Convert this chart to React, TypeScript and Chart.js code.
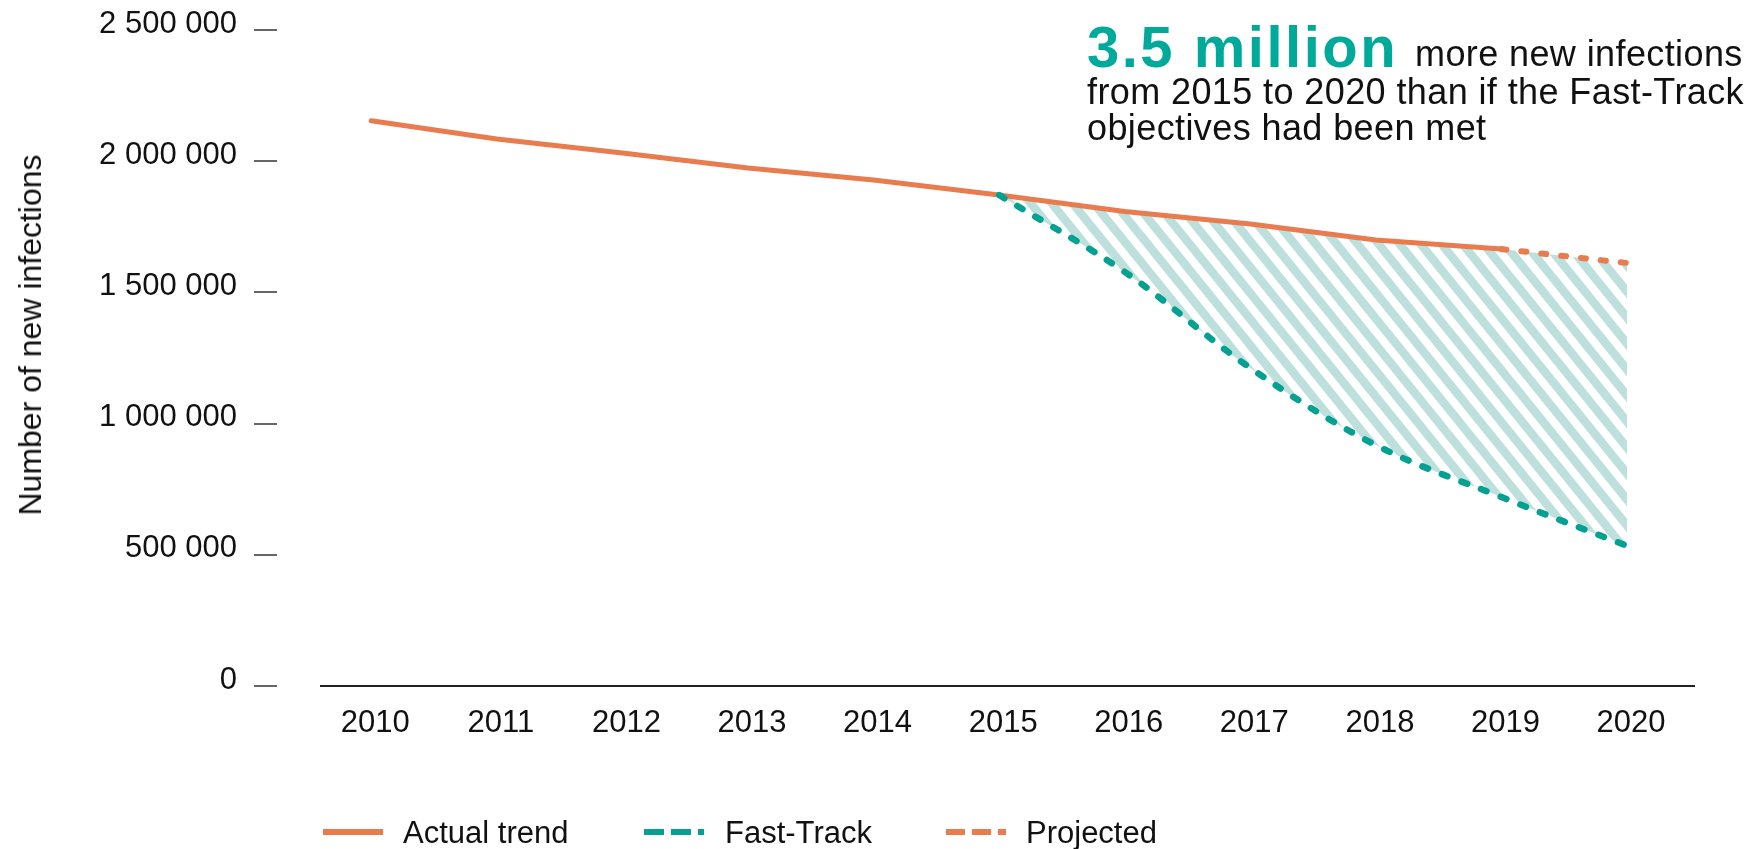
import React, { useEffect, useRef } from 'react';
import { Chart, registerables } from 'chart.js';

Chart.register(...registerables);

// ---------- data ----------
const years = [2010, 2011, 2012, 2013, 2014, 2015, 2016, 2017, 2018, 2019, 2020];
const actualYears = [2010, 2011, 2012, 2013, 2014, 2015, 2016, 2017, 2018, 2019];
const actualTrend = [2154000, 2085000, 2031000, 1974000, 1928000, 1871000, 1808000, 1761000, 1700000, 1665000];
const projectedYears = [2019, 2020];
const projected = [1665000, 1612000];
const fastTrackYears = [2015, 2016, 2017, 2018, 2019, 2020];
const fastTrack = [1871000, 1578000, 1212000, 918000, 720000, 534000];
const yTicks = [0, 500000, 1000000, 1500000, 2000000, 2500000];
const legendLabels = ['Actual trend', 'Fast-Track', 'Projected'];
const yTitle = 'Number of new infections';
const headline = '3.5 million';
const noteLines = ['more new infections', 'from 2015 to 2020 than if the Fast-Track', 'objectives had been met'];

// ---------- styles ----------
const FONT = "'Liberation Sans', Arial, Helvetica, sans-serif";
const ORANGE = '#E97C4F';
const TEAL = '#04A193';
const TEAL_TEXT = '#00AA9B';
const HATCH = '#BDE0DD';

const fmt = (v: number) => String(v).replace(/\B(?=(\d{3})+(?!\d))/g, ' ');

function makeHatch(ctx: CanvasRenderingContext2D) {
  const W = 21, H = 26, s = 11;
  const c = document.createElement('canvas');
  c.width = W;
  c.height = H;
  const g = c.getContext('2d')!;
  g.fillStyle = HATCH;
  for (const k of [-1, 0, 1]) {
    g.beginPath();
    g.moveTo(k * W, 0);
    g.lineTo(k * W + s, 0);
    g.lineTo(k * W + s + W, H);
    g.lineTo(k * W + W, H);
    g.closePath();
    g.fill();
  }
  return ctx.createPattern(c, 'repeat');
}

const yTickMarks = {
  id: 'yTickMarks',
  afterDraw(chart: any) {
    const { ctx, chartArea, scales } = chart;
    const y = scales.y;
    ctx.save();
    ctx.strokeStyle = '#333';
    ctx.lineWidth = 1.5;
    yTicks.forEach((v) => {
      const py = Math.round(y.getPixelForValue(v));
      ctx.beginPath();
      ctx.moveTo(chartArea.left - 67, py);
      ctx.lineTo(chartArea.left - 44, py);
      ctx.stroke();
    });
    ctx.restore();
  },
};

const pts = (xs: number[], ys: number[]) => xs.map((x, i) => ({ x, y: ys[i] }));

export default function App() {
  const ref = useRef<HTMLCanvasElement>(null);

  useEffect(() => {
    const canvas = ref.current!;
    const ctx = canvas.getContext('2d')!;
    const hatch = makeHatch(ctx);
    const upperYears = fastTrackYears;
    const upper = actualTrend.slice(actualYears.indexOf(2015)).concat(projected.slice(1));

    const chart = new Chart(canvas, {
      type: 'line',
      data: {
        datasets: [
          {
            label: legendLabels[1],
            data: pts(fastTrackYears, fastTrack),
            borderColor: TEAL,
            borderWidth: 6.5,
            borderDash: [6, 15],
            borderCapStyle: 'round',
            tension: 0.35,
            pointRadius: 0,
            fill: 3,
            backgroundColor: hatch as any,
            order: 0,
          },
          {
            label: legendLabels[0],
            data: pts(actualYears, actualTrend),
            borderColor: ORANGE,
            borderWidth: 5,
            borderCapStyle: 'round',
            tension: 0,
            pointRadius: 0,
            fill: false,
            order: 1,
          },
          {
            label: legendLabels[2],
            data: pts(projectedYears, projected),
            borderColor: ORANGE,
            borderWidth: 6,
            borderDash: [5, 15],
            borderCapStyle: 'round',
            tension: 0,
            pointRadius: 0,
            fill: false,
            order: 1,
          },
          {
            label: 'upper',
            data: pts(upperYears, upper),
            borderWidth: 0,
            borderColor: 'rgba(0,0,0,0)',
            tension: 0,
            pointRadius: 0,
            fill: false,
            order: 3,
          },
        ],
      },
      options: {
        animation: false,
        responsive: false,
        devicePixelRatio: 1,
        events: [],
        layout: { padding: { top: 30, right: 61, bottom: 0, left: 0 } },
        plugins: {
          legend: { display: false },
          tooltip: { enabled: false },
          filler: { drawTime: 'beforeDatasetsDraw' },
        } as any,
        scales: {
          x: {
            type: 'linear',
            min: 2009.6,
            max: 2020.533,
            afterBuildTicks: (scale: any) => {
              scale.ticks = years.map((v) => ({ value: v }));
            },
            afterFit: (scale: any) => {
              scale.height = 163;
            },
            grid: { display: false, drawTicks: false },
            border: { display: true, color: '#222', width: 2 },
            ticks: {
              autoSkip: false,
              maxRotation: 0,
              padding: 19,
              labelOffset: 4,
              color: '#111',
              font: { family: FONT, size: 31 },
              callback: (v: any) => String(v),
            },
          },
          y: {
            type: 'linear',
            min: 0,
            max: 2500000,
            afterBuildTicks: (scale: any) => {
              scale.ticks = yTicks.map((v) => ({ value: v }));
            },
            afterFit: (scale: any) => {
              scale.width = 321;
              scale.paddingTop = 0;
              scale.paddingBottom = 0;
            },
            grid: { display: false, drawTicks: false },
            border: { display: false },
            ticks: {
              padding: 84,
              color: '#111',
              font: { family: FONT, size: 31, lineHeight: 0.387 },
              callback: (v: any) => [fmt(Number(v)), ''],
            },
          },
        },
      } as any,
      plugins: [yTickMarks],
    });
    return () => chart.destroy();
  }, []);

  const txt: React.CSSProperties = {
    position: 'absolute',
    whiteSpace: 'nowrap',
    fontFamily: FONT,
    color: '#111',
  };

  const note: React.CSSProperties = {
    ...txt,
    fontSize: 36,
    lineHeight: '36px',
    letterSpacing: '0.4px',
  };

  const legendItem = (x1: number, x2: number, color: string, dash: string | null) => (
    <svg
      style={{ position: 'absolute', left: x1 - 4, top: 824, overflow: 'visible' }}
      width={x2 - x1 + 8}
      height={16}
    >
      <line
        x1={4}
        y1={8}
        x2={x2 - x1 + 4}
        y2={8}
        stroke={color}
        strokeWidth={6}
        strokeDasharray={dash || undefined}
      />
    </svg>
  );

  return (
    <div
      style={{
        position: 'fixed',
        left: 0,
        top: 0,
        width: 1755,
        height: 849,
        background: '#fff',
        overflow: 'hidden',
      }}
    >
      <canvas
        ref={ref}
        width={1755}
        height={849}
        style={{ position: 'absolute', left: 0, top: 0, width: 1755, height: 849 }}
      />

      {/* y-axis title */}
      <div
        style={{
          ...txt,
          left: 29.5,
          top: 334.5,
          fontSize: 32,
          lineHeight: '32px',
          transform: 'translate(-50%, -50%) rotate(-90deg)',
        }}
      >
        {yTitle}
      </div>

      {/* annotation */}
      <div
        style={{
          ...txt,
          left: 1087,
          top: 17.6,
          fontSize: 58,
          lineHeight: '58px',
          fontWeight: 700,
          letterSpacing: '2.5px',
          color: TEAL_TEXT,
        }}
      >
        {headline}
      </div>
      <div style={{ ...note, left: 1415, top: 36.2 }}>{noteLines[0]}</div>
      <div style={{ ...note, left: 1087, top: 73.8 }}>{noteLines[1]}</div>
      <div style={{ ...note, left: 1087, top: 109.5 }}>{noteLines[2]}</div>

      {/* legend */}
      {legendItem(323, 383, ORANGE, null)}
      <div style={{ ...txt, left: 403, top: 816.7, fontSize: 31, lineHeight: '31px' }}>{legendLabels[0]}</div>
      {legendItem(644, 704, TEAL, '20 7')}
      <div style={{ ...txt, left: 725, top: 816.7, fontSize: 31, lineHeight: '31px' }}>{legendLabels[1]}</div>
      {legendItem(946, 1006, ORANGE, '19 7')}
      <div style={{ ...txt, left: 1026, top: 816.7, fontSize: 31, lineHeight: '31px' }}>{legendLabels[2]}</div>
    </div>
  );
}
